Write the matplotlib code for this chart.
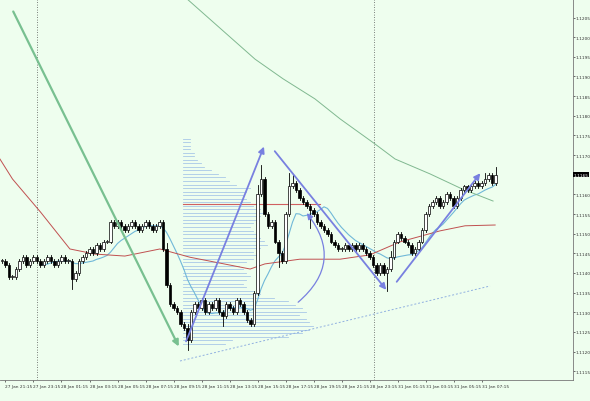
import matplotlib
matplotlib.use("Agg")
import matplotlib.pyplot as plt
import numpy as np
from matplotlib.patches import FancyArrowPatch

BASE = 1.1100
PIP = 0.0001
# closes in pips above 1.1100 (15-minute bars)
closes = [43,42,39,39,41,43,44,42,43,44,43,42,43,44,43,42,43,44,43,43,
          38.5,40,43,44,45,46,45,47,46,48,48,53,52,53,52,51,52,53,52,51,
          52,53,52,51,52,53,46,37,32,31,30,27,26,23,30,32,31,33,30,32,
          31,33,30,29,32,31,30,33,32,30,28,27,35,60,64,55,52,53,48,45,
          43,55,62,63,61,59,58,57,56,55,53,52,51,50,48,47,46,46,47,46,
          47,46,47,46,45,44,42,40,42,40,41,44,48,50,49,48,47,45,46,48,
          51,55,57,58,59,57,58,60,59,57,59,61,62,61,62,63,62,63,64,65,63,65]
first_open = 43
# extra wick lengths (pips) at notable bars
wick_hi = {73: 2, 74: 3, 82: 3, 83: 1.5, 47: 1, 53: 0.5, 111: 1, 138: 1, 141: 1.5}
wick_lo = {53: 2, 110: 4, 79: 3, 88: 4, 63: 2, 20: 2}
# red (long MA) and green (very long MA) traced as (bar, pips)
red_x = [-0.6, 3, 11, 19.4, 26.6, 35.1, 45.1, 53.7, 70.9, 75.1, 85.1, 96.6, 105.1, 113.7, 125.1, 132.3, 140.9]
red_y = [69, 63.9, 55.5, 46.1, 44.8, 44.3, 46.1, 44, 41, 42.3, 43.5, 43.5, 44.6, 47.9, 50.7, 52, 52.2]
green_x = [52.9, 72.3, 80.3, 89.4, 96.6, 106.6, 112.3, 122.3, 131.4, 140.3]
green_y = [109.7, 94.4, 89.4, 84.3, 79.2, 72.8, 69, 65.2, 61.4, 58.3]
# volume profile: pip level -> length in bars
vp_levels = list(np.arange(22, 75, 0.9))
vp_len = [12,14,30,34,36,37,36,35,33,35,34,32,30,26,22,20,18,17,18,19,18,17,16,18,20,
          21,20,22,24,23,22,21,20,19,20,21,22,23,22,20,19,18,17,18,19,15,13,12,10,8,6,
          5,4,3,3,2,2,2,2]
xlabels = ["27 Jan 21:15","27 Jan 23:15","28 Jan 01:15","28 Jan 03:15","28 Jan 05:15",
           "28 Jan 07:15","28 Jan 09:15","28 Jan 11:15","28 Jan 13:15","28 Jan 15:15",
           "28 Jan 17:15","28 Jan 19:15","28 Jan 21:15","28 Jan 23:15","31 Jan 01:15",
           "31 Jan 03:15","31 Jan 05:15","31 Jan 07:15"]

BG = "#eefeee"
fig = plt.figure(figsize=(5.9, 4.02), dpi=100, facecolor=BG)
ax = fig.add_axes([0, 21/402, 573/590, 381/402])
ax.set_facecolor(BG)

def P(p): return BASE + p*PIP
def px(x, y): return ((x-2)/3.5, 1.1205 - (y-18.5)/39300)

ax.set_xlim(-0.571, 163.14)
ax.set_ylim(1.111276, 1.120971)

# volume profile
n = min(len(vp_levels), len(vp_len))
x0 = px(183, 0)[0]
for lv, ln in zip(vp_levels[:n], vp_len[:n]):
    ax.plot([x0, x0+ln], [P(lv), P(lv)], color="#a8c8e8", lw=0.6, zorder=1)
ax.plot([x0, px(320, 0)[0]], [P(57.5), P(57.5)], color="#d06060", lw=0.8, zorder=2)

# indicators
c = np.array(closes, float)
blue = np.convolve(c, np.ones(12)/12, mode="valid")
ax.plot(np.arange(11, len(c)), BASE + blue*PIP, color="#70b8d8", lw=0.8, zorder=3)
ax.plot(red_x, [P(v) for v in red_y], color="#c05050", lw=0.7, zorder=3)
ax.plot(green_x, [P(v) for v in green_y], color="#80b890", lw=0.7, zorder=3)

# candles
opens = [first_open] + closes[:-1]
for i, (o, cl) in enumerate(zip(opens, closes)):
    hi = max(o, cl) + 0.5 + wick_hi.get(i, 0)
    lo = min(o, cl) - 0.5 - wick_lo.get(i, 0)
    ax.plot([i, i], [P(lo), P(hi)], color="black", lw=0.6, zorder=4)
    body = max(abs(cl-o), 0.25)
    ax.bar(i, body*PIP, bottom=P(min(o, cl)), width=0.7,
           color="white" if cl >= o else "black", edgecolor="black", lw=0.5, zorder=5)

# vertical separators
for xx in (37, 374):
    ax.axvline(px(xx, 0)[0], color="#555555", ls=(0, (1, 2)), lw=0.6, zorder=0)

def arrow(a, b, col, lw=1.3, rad=0.0):
    ax.add_patch(FancyArrowPatch(px(*a), px(*b), arrowstyle="-|>", mutation_scale=9,
                 color=col, lw=lw, connectionstyle=f"arc3,rad={rad}", zorder=6))
arrow((12, 10), (180, 350), "#78c090", 1.6)
arrow((185, 345), (265, 145), "#7880e0")
arrow((273, 150), (388, 293), "#7880e0")
arrow((395, 285), (482, 172), "#7880e0")
arrow((296, 305), (305, 212), "#7880e0", 0.9, 0.5)
a, b = px(180, 362), px(490, 287)
ax.plot([a[0], b[0]], [a[1], b[1]], color="#90b0e0", ls=(0, (2, 2)), lw=0.7)

# axes styling
ax.yaxis.tick_right()
yt = np.arange(1.1115, 1.12051, 0.0005)
ax.set_yticks(yt)
ax.set_yticklabels(["" if abs(v-1.1165) < 1e-6 else f"{v:.4f}" for v in yt], fontsize=3.1)
ax.set_xticks([(x-2)/3.5 + 1 for x in range(2, 500, 28)][:len(xlabels)])
ax.set_xticklabels(xlabels, fontsize=3.1, ha="left")
ax.tick_params(length=1.5, width=0.5, pad=0.5, colors="#333333")
ax.tick_params(axis="x", pad=1.5)
for s in ("top", "left"):
    ax.spines[s].set_visible(False)
for s in ("right", "bottom"):
    ax.spines[s].set_color("#777777"); ax.spines[s].set_linewidth(0.6)
ax.text(1.001, 1.1165, "1.1165", transform=ax.get_yaxis_transform(), fontsize=3.1,
        color="white", va="center", ha="left", bbox=dict(fc="black", ec="none", pad=0.5), clip_on=False)

fig.savefig("out.png", dpi=100, facecolor=BG)
